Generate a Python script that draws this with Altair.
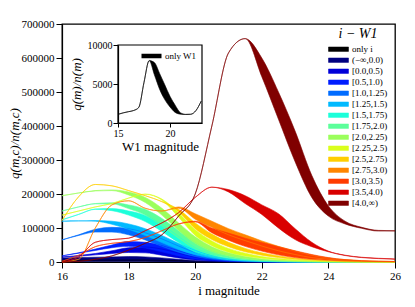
import altair as alt
import pandas as pd

# ---------------- main panel data (values in thousands) ----------------
x_grid = [16.0, 16.5, 17.0, 17.5, 18.0, 18.5, 19.0, 19.5, 20.0, 20.5, 21.0,
          21.5, 22.0, 22.5, 23.0, 23.5, 24.0, 24.5, 25.0, 25.5, 26.0]

class_labels = ["only i", "(−∞,0.0)", "[0.0,0.5)", "[0.5,1.0)", "[1.0,1.25)",
                "[1.25,1.5)", "[1.5,1.75)", "[1.75,2.0)", "[2.0,2.25)",
                "[2.25,2.5)", "[2.5,2.75)", "[2.75,3.0)", "[3.0,3.5)",
                "[3.5,4.0)", "[4.0,∞)"]
class_colors = ["#000000", "#000080", "#0000d9", "#001dff", "#006cff",
                "#00baff", "#1cffda", "#5cff9b", "#9bff5c", "#daff1c",
                "#ffce00", "#ff8500", "#ff3c00", "#d90000", "#800000"]

only_i_hi = [5, 5, 6, 6, 6, 6, 5, 4, 3, 2, 1, 0.5, 0.3, 0.2, 0.1, 0, 0, 0, 0, 0, 0]
only_i_lo = [3, 3, 3, 3, 3, 3, 2, 2, 1, 1, 0.5, 0.3, 0.2, 0.1, 0, 0, 0, 0, 0, 0, 0]
neg_hi = [12, 13, 14, 15, 16, 15, 12, 8, 4, 2, 1, 0.5, 0.2, 0.1, 0, 0, 0, 0, 0, 0, 0]
neg_lo = [2, 2, 2, 2, 2, 2, 1.5, 1, 0.5, 0.3, 0.2, 0.1, 0, 0, 0, 0, 0, 0, 0, 0, 0]
c00_hi = [15, 19, 25, 33, 42, 44, 38, 26, 14, 7, 3, 1.5, 0.7, 0.3, 0.1, 0, 0, 0, 0, 0, 0]
c00_lo = [14, 17, 21, 25, 28, 27, 20, 12, 6, 3, 1.2, 0.6, 0.3, 0.1, 0, 0, 0, 0, 0, 0, 0]
c05_hi = [18, 27, 38, 50, 60, 58, 48, 33, 19, 10, 5, 2.5, 1.2, 0.5, 0.2, 0.1, 0, 0, 0, 0, 0]
c05_lo = [18, 26, 34, 42, 46, 41, 30, 18, 9, 4.5, 2, 1, 0.5, 0.2, 0.1, 0, 0, 0, 0, 0, 0]
c10_hi = [65, 80, 96, 102, 98, 86, 68, 47, 28, 15, 7.5, 3.5, 1.6, 0.8, 0.4, 0.2, 0.1, 0, 0, 0, 0]
c10_lo = [65, 78, 88, 88, 80, 65, 46, 29, 16, 8, 3.8, 1.8, 0.8, 0.4, 0.2, 0.1, 0, 0, 0, 0, 0]
c125_hi = [120, 121, 122, 120, 112, 98, 78, 55, 34, 19, 10, 5, 2.5, 1.2, 0.6, 0.3, 0.1, 0, 0, 0, 0]
c125_lo = [120, 121, 120, 111, 96, 78, 57, 37, 21, 11, 5.5, 2.7, 1.3, 0.6, 0.3, 0.1, 0, 0, 0, 0, 0]
c15_hi = [124, 140, 156, 157, 150, 137, 110, 75, 42, 22, 11, 5.5, 2.8, 1.4, 0.7, 0.3, 0.1, 0, 0, 0, 0]
c15_lo = [124, 140, 155, 151, 138, 119, 90, 57, 29, 15, 7, 3.5, 1.8, 0.9, 0.4, 0.2, 0.1, 0, 0, 0, 0]
c175_hi = [150, 162, 172, 174, 168, 155, 128, 92, 56, 32, 18, 10, 5.5, 3, 1.5, 0.7, 0.3, 0.1, 0, 0, 0]
c175_lo = [150, 162, 171, 171, 157, 138, 106, 70, 39, 21, 12, 6.5, 3.5, 1.8, 0.9, 0.4, 0.2, 0.1, 0, 0, 0]
c20_hi = [195, 203, 210, 212, 206, 190, 158, 115, 74, 45, 27, 16, 9, 5, 2.8, 1.5, 0.7, 0.3, 0.1, 0, 0]
c20_lo = [195, 203, 209, 210, 197, 175, 138, 93, 55, 31, 18, 10, 5.5, 3, 1.7, 0.9, 0.4, 0.2, 0.1, 0, 0]
c225_hi = [138, 150, 162, 172, 188, 200, 185, 145, 95, 62, 40, 26, 16, 10, 6, 3.5, 1.8, 0.9, 0.4, 0.2, 0.1]
c225_lo = [138, 150, 162, 172, 188, 199, 182, 132, 78, 48, 29, 18, 11, 6.5, 3.8, 2.2, 1.1, 0.5, 0.2, 0.1, 0]
c25_hi = [122, 192, 228, 224, 210, 195, 178, 155, 115, 82, 58, 40, 27, 18, 11, 7, 4, 2, 1, 0.5, 0.2]
c25_lo = [122, 192, 228, 224, 210, 195, 177, 148, 98, 66, 45, 30, 20, 13, 8, 5, 2.8, 1.4, 0.7, 0.3, 0.1]
c275_hi = [0, 8, 100, 168, 180, 158, 150, 162, 142, 120, 98, 80, 62, 46, 32, 20, 12, 7, 4, 2.5, 1.5]
c275_lo = [0, 8, 100, 168, 180, 158, 150, 158, 126, 102, 80, 63, 47, 33, 22, 13, 8, 4.5, 2.5, 1.5, 1]
c30_hi = [2, 20, 45, 55, 60, 72, 92, 112, 120, 100, 85, 70, 57, 45, 33, 22, 13, 7, 4, 2.5, 1.5]
c30_lo = [2, 20, 45, 55, 60, 72, 92, 112, 118, 86, 64, 46, 32, 21, 13, 8, 5, 3, 2, 1.2, 0.8]
c35_hi = [0, 15, 58, 66, 70, 92, 115, 145, 190, 220, 213, 195, 168, 142, 98, 58, 32, 20, 14, 11, 9]
c35_lo = [0, 15, 58, 66, 70, 92, 115, 145, 190, 220, 206, 172, 140, 100, 66, 45, 30, 19, 13, 10, 8]
c40_hi = [0, 2, 8, 18, 35, 55, 80, 135, 200, 400, 615, 657, 600, 500, 385, 255, 165, 120, 102, 93, 92]
c40_lo = [0, 2, 8, 18, 35, 55, 80, 135, 200, 400, 615, 657, 545, 420, 295, 190, 135, 112, 99, 91, 91]

uppers = [only_i_hi, neg_hi, c00_hi, c05_hi, c10_hi, c125_hi, c15_hi, c175_hi,
          c20_hi, c225_hi, c25_hi, c275_hi, c30_hi, c35_hi, c40_hi]
lowers = [only_i_lo, neg_lo, c00_lo, c05_lo, c10_lo, c125_lo, c15_lo, c175_lo,
          c20_lo, c225_lo, c25_lo, c275_lo, c30_lo, c35_lo, c40_lo]

# ---------------- inset data ----------------
w1_x = [15.0, 15.5, 16.0, 16.5, 17.0, 17.5, 18.0, 18.5, 19.0, 19.5, 20.0,
        20.5, 21.0, 21.5, 22.0, 22.5, 23.0]
w1_hi = [1110, 1300, 1450, 1600, 2000, 5200, 8000, 7750, 6360, 4890, 3420,
         2280, 1330, 1110, 1120, 1600, 2800]
w1_lo = [1110, 1300, 1450, 1600, 2000, 5200, 8000, 6180, 4330, 3000, 2060,
         1360, 1130, 1090, 1120, 1600, 2800]
inset_xdom = [15, 23.08]
inset_ydom = [0, 10000]

# ---------------- tables ----------------
area_rows, line_rows = [], []
for name, hi, lo in zip(class_labels, uppers, lowers):
    for x, a, b in zip(x_grid, hi, lo):
        area_rows.append({"cls": name, "x": x, "hi": a * 1000, "lo": b * 1000})
        line_rows.append({"cls": name, "edge": "hi", "x": x, "y": a * 1000})
        line_rows.append({"cls": name, "edge": "lo", "x": x, "y": b * 1000})
df_area = pd.DataFrame(area_rows)
df_line = pd.DataFrame(line_rows)

df_w1 = pd.DataFrame({"x": w1_x, "hi": w1_hi, "lo": w1_lo, "name": "only W1"})
df_w1_line = pd.concat([
    pd.DataFrame({"x": w1_x, "y": w1_hi, "edge": "hi"}),
    pd.DataFrame({"x": w1_x, "y": w1_lo, "edge": "lo"}),
])
df_frame = pd.DataFrame({"x": [inset_xdom[0]], "x2": [inset_xdom[1]],
                         "y": [inset_ydom[0]], "y2": [inset_ydom[1]]})

SERIF = "Liberation Serif"

# ---------------- main panel ----------------
mx_scale = alt.Scale(domain=[16, 26], nice=False, zero=False)
my_scale = alt.Scale(domain=[0, 700000], nice=False)
mx_axis = alt.Axis(values=[16, 18, 20, 22, 24, 26], title="i magnitude",
                   labelFont=SERIF, titleFont=SERIF,
                   titleFontSize=13, labelFontSize=11, tickSize=6,
                   labelPadding=2, titlePadding=3)
my_axis = alt.Axis(values=list(range(0, 700001, 100000)), format="d",
                   title="q(m,c)/n(m,c)", titleFontStyle="italic",
                   labelFont=SERIF, titleFont=SERIF,
                   titleFontSize=13, labelFontSize=11, tickSize=6,
                   labelPadding=2, titlePadding=0)
main_legend = alt.Legend(title="i − W1", orient="none", legendX=266, legendY=3,
                         labelFont=SERIF, titleFont=SERIF,
                         titleFontSize=14, titleFontStyle="italic",
                         titleFontWeight="normal", titleAnchor="middle",
                         titlePadding=3, labelFontSize=9, labelOffset=3,
                         symbolType="M-1,-0.22H1V0.22H-1Z", symbolSize=400,
                         symbolStrokeWidth=0.5, symbolOpacity=1,
                         clipHeight=10.35, rowPadding=0, padding=0)
mcolor = alt.Color("cls:N", scale=alt.Scale(domain=class_labels, range=class_colors),
                   legend=main_legend)

main_area = alt.Chart(df_area).mark_area(interpolate="monotone", opacity=1).encode(
    x=alt.X("x:Q", scale=mx_scale, axis=mx_axis),
    y=alt.Y("hi:Q", scale=my_scale, axis=my_axis, stack=None),
    y2="lo:Q",
    color=mcolor,
)
main_lines = alt.Chart(df_line).mark_line(interpolate="monotone", strokeWidth=0.6).encode(
    x=alt.X("x:Q", scale=mx_scale, axis=mx_axis),
    y=alt.Y("y:Q", scale=my_scale, axis=my_axis),
    color=mcolor,
    detail="edge:N",
)
main = alt.layer(main_area, main_lines)

# ---------------- inset panel ----------------
ix_scale = alt.Scale(domain=inset_xdom, range=[56, 140], nice=False, zero=False)
iy_scale = alt.Scale(domain=inset_ydom, range=[99, 21], nice=False)
ix_axis = alt.Axis(orient="bottom", offset=-139, values=[15, 20],
                   title="W1 magnitude", labelFont=SERIF, titleFont=SERIF,
                   titleFontSize=13, labelFontSize=10,
                   tickSize=4, labelPadding=1, titlePadding=2)
iy_axis = alt.Axis(orient="left", offset=-56, values=[0, 5000, 10000], format="d",
                   title="q(m)/n(m)", titleFontStyle="italic",
                   labelFont=SERIF, titleFont=SERIF, titleFontSize=13,
                   labelFontSize=10, tickSize=5, labelPadding=1, titlePadding=4)
inset_legend = alt.Legend(title=None, orient="none", legendX=79, legendY=27,
                          labelFont=SERIF, labelFontSize=9, labelOffset=3,
                          symbolType="M-1,-0.22H1V0.22H-1Z", symbolSize=400,
                          symbolStrokeWidth=0.5, clipHeight=10, padding=0)

inset_area = alt.Chart(df_w1).mark_area(interpolate="monotone").encode(
    x=alt.X("x:Q", scale=ix_scale, axis=ix_axis),
    y=alt.Y("hi:Q", scale=iy_scale, axis=iy_axis, stack=None),
    y2="lo:Q",
    color=alt.Color("name:N", scale=alt.Scale(domain=["only W1"], range=["black"]),
                    legend=inset_legend),
)
inset_lines = alt.Chart(df_w1_line).mark_line(interpolate="monotone", strokeWidth=0.6,
                                             color="black").encode(
    x=alt.X("x:Q", scale=ix_scale, axis=ix_axis),
    y=alt.Y("y:Q", scale=iy_scale, axis=iy_axis),
    detail="edge:N",
)
inset_frame = alt.Chart(df_frame).mark_rect(fillOpacity=0, stroke="black",
                                            strokeWidth=1.2).encode(
    x=alt.X("x:Q", scale=ix_scale, axis=ix_axis),
    x2="x2:Q",
    y=alt.Y("y:Q", scale=iy_scale, axis=iy_axis),
    y2="y2:Q",
)
inset = alt.layer(inset_area, inset_lines, inset_frame)

chart = alt.layer(main, inset).resolve_scale(
    x="independent", y="independent", color="independent"
).properties(
    width=333, height=238,
    autosize=alt.AutoSizeParams(type="none"),
    padding={"left": 54, "top": 16, "right": 12, "bottom": 36},
).configure_view(
    stroke="black", strokeWidth=1.3
).configure_axis(
    labelFont=SERIF, titleFont=SERIF, labelColor="black", titleColor="black",
    titleFontWeight="normal", domainColor="black", tickColor="black",
    domainWidth=1.2, tickWidth=1, grid=False, labelFlush=False,
).configure_legend(
    labelFont=SERIF, titleFont=SERIF, labelColor="black", titleColor="black",
)

chart.save("out.html", embed_options={"renderer": "svg", "actions": False})
